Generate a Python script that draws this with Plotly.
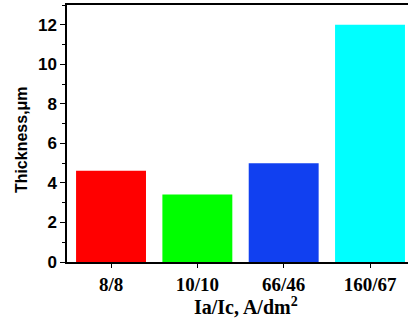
import plotly.graph_objects as go

categories = ["8/8", "10/10", "66/46", "160/67"]
thickness = [4.62, 3.42, 5.0, 12.0]
bar_colors = ["#FF0000", "#00FF00", "#1140F0", "#00FFFF"]
y_ticks = [0, 2, 4, 6, 8, 10, 12]

fig = go.Figure(go.Bar(
    x=list(range(len(categories))), y=thickness,
    marker=dict(color=bar_colors, line=dict(width=0)),
    width=0.81,
))

fig.update_layout(
    width=408, height=322,
    margin=dict(l=67, r=0, t=5, b=60),
    paper_bgcolor="white", plot_bgcolor="white",
    showlegend=False,
    xaxis=dict(
        range=[-0.51, 3.44],
        tickvals=list(range(len(categories))),
        ticktext=["<b>%s</b>" % c for c in categories],
        showline=True, linecolor="black", linewidth=1.5, mirror=True,
        ticks="outside", ticklen=4, tickwidth=1, tickcolor="black",
        tickfont=dict(family="Liberation Serif", size=19, color="black"),
        showgrid=False, zeroline=False,
    ),
    yaxis=dict(
        range=[0, 13],
        tickvals=y_ticks,
        ticktext=["<b>%d</b>" % v for v in y_ticks],
        showline=True, linecolor="black", linewidth=1.5, mirror=False,
        ticks="outside", ticklen=5, tickwidth=1, tickcolor="black",
        minor=dict(dtick=1, ticks="outside", ticklen=3, tickcolor="black", tickwidth=1),
        tickfont=dict(family="Liberation Sans", size=17, color="black"),
        showgrid=False, zeroline=False,
    ),
    annotations=[
        dict(text="<b>Thickness,\u03bcm</b>", xref="paper", yref="paper",
             x=-0.135, y=0.478, xanchor="center", yanchor="middle",
             textangle=-90, showarrow=False,
             font=dict(family="Liberation Sans", size=16, color="black")),
        dict(text="<b>Ia/Ic, A/dm<sup>2</sup></b>", xref="paper", yref="paper",
             x=0.525, y=-0.171, xanchor="center", yanchor="middle",
             showarrow=False,
             font=dict(family="Liberation Serif", size=20, color="black")),
    ],
)

fig.write_html("out.html", post_script="document.body.style.margin='0';",
               config={"displayModeBar": False})
